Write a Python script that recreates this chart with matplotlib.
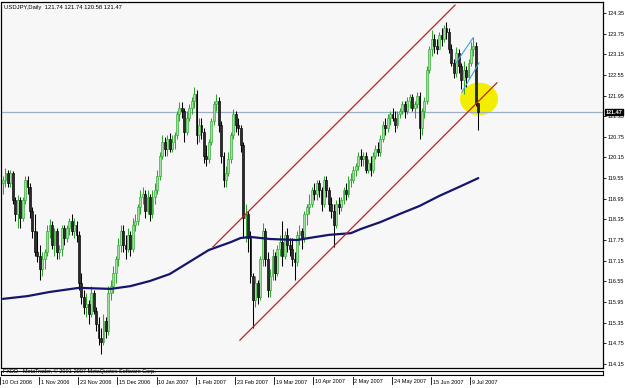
import matplotlib
matplotlib.use("Agg")
import matplotlib.pyplot as plt
from matplotlib.patches import Ellipse
from matplotlib.lines import Line2D
import numpy as np

# ---------------- data ----------------
chart_title = "USDJPY,Daily  121.74 121.74 120.58 121.47"
copyright_text = "FXDD - MetaTrader, \u00a9 2001-2007 MetaQuotes Software Corp."
date_labels = ["10 Oct 2006", "1 Nov 2006", "23 Nov 2006", "15 Dec 2006", "10 Jan 2007",
               "1 Feb 2007", "23 Feb 2007", "19 Mar 2007", "10 Apr 2007", "2 May 2007",
               "24 May 2007", "15 Jun 2007", "9 Jul 2007"]
date_label_bars = [0, 16, 32, 48, 64, 80, 96, 112, 128, 144, 160, 176, 192]
price_ticks = [124.35, 123.75, 123.15, 122.55, 121.95, 121.35, 120.75, 120.15, 119.55,
               118.95, 118.35, 117.75, 117.15, 116.55, 115.95, 115.35, 114.75, 114.15]
last_price = 121.47

opens = [
    119.4, 119.5, 119.7, 119.4, 119.7, 118.9, 118.5, 118.9, 118.4, 118.9, 119.5, 119.3, 118.6, 118.0, 117.4, 117.3,
    116.9, 117.2, 117.4, 118.0, 118.2, 117.6, 118.0, 117.4, 117.5, 118.1, 117.8, 118.1, 118.3, 118.0, 118.2, 117.9,
    116.5, 116.1, 115.8, 115.9, 115.6, 116.2, 115.7, 115.3, 114.9, 114.8, 115.4, 115.1, 116.2, 116.4, 116.8, 117.2,
    117.6, 118.0, 117.6, 117.5, 117.9, 117.5, 118.2, 118.3, 118.7, 119.0, 119.1, 118.6, 119.0, 118.5, 119.0, 119.2,
    119.6, 120.2, 120.6, 120.4, 120.7, 120.4, 120.6, 120.8, 121.4, 121.6, 121.5, 120.9, 121.3, 121.6, 121.8, 122.0,
    120.8, 121.1, 120.9, 120.2, 120.1, 120.6, 121.2, 121.7, 121.8, 121.1, 120.2, 119.5, 119.7, 120.1, 120.8, 121.4,
    121.1, 121.0, 120.5, 118.4, 118.5, 117.8, 116.7, 116.0, 116.5, 116.1, 117.2, 118.0, 117.2, 116.3, 116.7, 117.3,
    116.8, 117.5, 117.7, 117.3, 117.9, 117.6, 117.5, 117.2, 117.1, 117.9, 118.0, 117.8, 118.5, 118.7, 118.8, 119.2,
    119.1, 119.4, 119.2, 118.8, 119.5, 119.2, 118.8, 118.6, 118.2, 118.8, 118.7, 118.9, 119.2, 119.1, 119.5, 119.5,
    119.8, 119.9, 120.2, 120.1, 120.2, 119.8, 120.0, 119.8, 120.2, 120.4, 120.3, 120.7, 121.1, 121.0, 121.3, 121.4,
    121.3, 121.1, 121.4, 121.5, 121.7, 121.5, 121.8, 121.9, 121.6, 121.7, 121.95, 121.0, 121.5, 121.8, 122.7, 123.3,
    123.6, 123.4, 123.3, 123.7, 123.6, 123.9, 123.8, 123.3, 122.9, 122.6, 123.2, 122.8, 122.4, 122.7, 122.5, 122.9,
    123.3, 123.4, 121.74,
]
highs = [
    119.6, 119.85, 119.8, 119.8, 119.75, 119.0, 119.05, 119.0, 119.0, 119.6, 119.6, 119.4, 118.7, 118.5, 118.0, 117.6,
    117.4, 117.5, 118.2, 118.35, 118.3, 118.1, 118.1, 117.6, 118.2, 118.2, 118.2, 118.4, 118.5, 118.4, 118.3, 118.0,
    116.8, 116.3, 116.2, 116.0, 116.4, 116.3, 115.8, 115.5, 115.2, 115.6, 115.5, 116.4, 116.6, 117.0, 117.3, 117.8,
    118.2, 118.2, 117.9, 118.1, 118.0, 118.4, 118.5, 118.8, 119.2, 119.3, 119.2, 119.2, 119.1, 119.2, 119.4, 119.8,
    120.3, 120.8, 120.75, 120.8, 120.85, 120.8, 120.9, 121.5, 121.75, 121.75, 121.6, 121.5, 121.7, 121.9, 122.2, 122.1,
    121.3, 121.3, 121.0, 120.5, 120.7, 121.3, 121.8, 122.0, 121.9, 121.2, 120.3, 119.9, 120.3, 120.9, 121.55, 121.5,
    121.3, 121.1, 120.6, 118.8, 118.6, 118.0, 116.8, 116.7, 116.6, 117.3, 118.25, 118.1, 117.4, 116.9, 117.5, 117.4,
    117.6, 117.9, 118.3, 118.0, 118.1, 117.8, 117.8, 117.4, 118.0, 118.2, 118.1, 118.6, 118.8, 119.1, 119.3, 119.4,
    119.5, 119.5, 119.3, 119.6, 119.6, 119.3, 119.0, 118.8, 118.9, 119.0, 119.0, 119.3, 119.4, 119.6, 119.7, 119.9,
    120.0, 120.3, 120.4, 120.3, 120.3, 120.1, 120.2, 120.3, 120.5, 120.6, 120.8, 121.2, 121.3, 121.4, 121.5, 121.6,
    121.5, 121.5, 121.6, 121.8, 121.8, 121.9, 122.0, 122.0, 121.8, 122.05, 122.05, 121.6, 121.9, 122.8, 123.4, 123.85,
    123.75, 123.6, 123.8, 123.9, 124.0, 124.1, 123.9, 123.45, 123.0, 123.35, 123.3, 122.9, 122.95, 122.8, 123.0, 123.5,
    123.65, 123.5, 121.74,
]
lows = [
    119.1, 119.3, 119.3, 119.3, 118.8, 118.3, 118.1, 118.1, 118.3, 118.8, 119.1, 118.4, 117.8, 117.3, 117.1, 116.6,
    116.7, 116.9, 117.3, 117.8, 117.5, 117.3, 117.2, 117.2, 117.3, 117.6, 117.7, 117.9, 117.9, 117.8, 117.7, 116.3,
    115.9, 115.6, 115.5, 115.3, 115.5, 115.6, 115.1, 114.7, 114.45, 114.7, 114.9, 115.0, 116.0, 116.2, 116.5, 117.0,
    117.4, 117.4, 117.2, 117.4, 117.3, 117.4, 118.0, 118.2, 118.5, 118.8, 118.4, 118.5, 118.3, 118.4, 118.8, 119.1,
    119.5, 120.1, 120.2, 120.2, 120.3, 120.3, 120.4, 120.7, 121.2, 121.3, 120.6, 120.8, 121.2, 121.4, 121.6, 120.55,
    120.6, 120.7, 120.0, 119.9, 120.0, 120.5, 121.1, 121.5, 120.9, 120.0, 119.3, 119.3, 119.6, 120.0, 120.7, 120.9,
    120.8, 120.3, 117.8, 117.7, 117.4, 116.5, 115.2, 115.8, 115.9, 116.0, 117.0, 117.0, 116.1, 116.1, 116.6, 116.6,
    116.7, 117.3, 117.0, 117.2, 117.4, 117.3, 117.0, 116.6, 117.0, 117.6, 117.5, 117.7, 118.2, 118.5, 118.7, 118.9,
    118.9, 119.0, 118.6, 118.7, 119.0, 118.6, 118.4, 117.55, 118.1, 118.5, 118.6, 118.8, 118.9, 119.0, 119.3, 119.4,
    119.6, 119.8, 119.9, 119.9, 119.7, 119.7, 119.6, 119.7, 120.1, 120.2, 120.2, 120.6, 120.8, 120.9, 121.1, 121.2,
    120.9, 121.0, 121.3, 121.4, 121.3, 121.4, 121.6, 121.5, 121.3, 121.6, 120.7, 120.8, 121.3, 121.7, 122.6, 123.1,
    123.2, 123.15, 123.3, 123.4, 123.5, 123.6, 123.2, 122.8, 122.45, 122.5, 122.6, 122.15, 122.0, 122.2, 122.45, 122.8,
    123.1, 121.65, 120.95,
]
closes = [
    119.5, 119.7, 119.4, 119.7, 118.9, 118.5, 118.9, 118.4, 118.9, 119.5, 119.3, 118.6, 118.0, 117.4, 117.3, 116.9,
    117.2, 117.4, 118.0, 118.2, 117.6, 118.0, 117.4, 117.5, 118.1, 117.8, 118.1, 118.3, 118.0, 118.2, 117.9, 116.5,
    116.1, 115.8, 115.9, 115.6, 116.2, 115.7, 115.3, 114.9, 114.8, 115.4, 115.1, 116.2, 116.4, 116.8, 117.2, 117.6,
    118.0, 117.6, 117.5, 117.9, 117.5, 118.2, 118.3, 118.7, 119.0, 119.1, 118.6, 119.0, 118.5, 119.0, 119.2, 119.6,
    120.2, 120.6, 120.4, 120.7, 120.4, 120.6, 120.8, 121.4, 121.6, 121.5, 120.9, 121.3, 121.6, 121.8, 122.0, 120.8,
    121.1, 120.9, 120.2, 120.1, 120.6, 121.2, 121.7, 121.8, 121.1, 120.2, 119.5, 119.7, 120.1, 120.8, 121.4, 121.1,
    121.0, 120.5, 118.4, 118.5, 117.8, 116.7, 116.0, 116.5, 116.1, 117.2, 118.0, 117.2, 116.3, 116.7, 117.3, 116.8,
    117.5, 117.7, 117.3, 117.9, 117.6, 117.5, 117.2, 117.1, 117.9, 118.0, 117.8, 118.5, 118.7, 118.8, 119.2, 119.1,
    119.4, 119.2, 118.8, 119.5, 119.2, 118.8, 118.6, 118.2, 118.8, 118.7, 118.9, 119.2, 119.1, 119.5, 119.5, 119.8,
    119.9, 120.2, 120.1, 120.2, 119.8, 120.0, 119.8, 120.2, 120.4, 120.3, 120.7, 121.1, 121.0, 121.3, 121.4, 121.3,
    121.1, 121.4, 121.5, 121.7, 121.5, 121.8, 121.9, 121.6, 121.7, 121.95, 121.0, 121.5, 121.8, 122.7, 123.3, 123.6,
    123.4, 123.3, 123.7, 123.6, 123.9, 123.8, 123.3, 122.9, 122.6, 123.2, 122.8, 122.4, 122.7, 122.5, 122.9, 123.3,
    123.4, 121.74, 121.47,
]

# 200-day moving average (bar index, value)
ma_bars = [0, 10, 19, 31, 44, 52, 60, 68, 76, 84, 93, 97, 101, 109, 120, 125, 133, 142, 146,
           154, 162, 170, 178, 187, 194]
ma_values = [116.04, 116.12, 116.24, 116.36, 116.33, 116.41, 116.56, 116.76, 117.11, 117.46,
             117.69, 117.81, 117.84, 117.78, 117.75, 117.81, 117.90, 117.95, 118.07,
             118.27, 118.51, 118.74, 119.03, 119.32, 119.55]

# trend channel (red) and flag (blue) lines
upper_channel_bars = [85.7, 184.5]
upper_channel_prices = [117.55, 124.58]
lower_channel_bars = [96.7, 201.6]
lower_channel_prices = [114.84, 122.32]
flag_upper_bars = [184.9, 191.8]
flag_upper_prices = [122.90, 123.62]
flag_lower_bars = [187.3, 194.3]
flag_lower_prices = [122.05, 122.90]

# highlight circle
highlight_bar = 194.3
highlight_price = 121.85
highlight_w_bars = 15.5
highlight_h_price = 0.95

# ---------------- layout ----------------
W, H = 625, 388
fig = plt.figure(figsize=(W / 100, H / 100), dpi=100)
fig.patch.set_facecolor("white")

FONT = ["Liberation Sans", "DejaVu Sans"]
FS = 4.0

px_per_bar = 2.45
bar0_px = 3.0
ax_left_px, ax_right_px = 1.5, 603.0
ax_top_px, ax_bot_px = 1.5, 367.5
px_per_unit = 34.4
ref_price, ref_px = 124.35, 13.0

ax = fig.add_axes([ax_left_px / W, 1 - ax_bot_px / H,
                   (ax_right_px - ax_left_px) / W, (ax_bot_px - ax_top_px) / H])
ax.set_facecolor("#f7f7f7")
ax.set_xlim((ax_left_px - bar0_px) / px_per_bar, (ax_right_px - bar0_px) / px_per_bar)
ax.set_ylim(ref_price - (ax_bot_px - ref_px) / px_per_unit,
            ref_price + (ref_px - ax_top_px) / px_per_unit)
for s in ax.spines.values():
    s.set_color("black")
    s.set_linewidth(0.9)

# highlight ellipse (beneath everything)
ax.add_patch(Ellipse((highlight_bar, highlight_price), highlight_w_bars, highlight_h_price,
                     facecolor="#f3ee00", edgecolor="none", zorder=1))

# last price line
ax.axhline(last_price, color="#9cb0c4", lw=0.9, zorder=1.5)

# candles
o = np.array(opens); h = np.array(highs); l = np.array(lows); c = np.array(closes)
idx = np.arange(len(c))
up = c >= o
bull_edge, bull_face = "#2ea62e", "#9ee09e"
ax.vlines(idx[up], l[up], h[up], color=bull_edge, lw=0.75, zorder=3)
ax.vlines(idx[~up], l[~up], h[~up], color="black", lw=0.75, zorder=3)
ax.bar(idx[up], np.maximum((c - o)[up], 0.02), bottom=o[up], width=0.75,
       facecolor=bull_face, edgecolor=bull_edge, lw=0.45, zorder=4)
ax.bar(idx[~up], (o - c)[~up], bottom=c[~up], width=0.75,
       facecolor="#2a2a2a", edgecolor="black", lw=0.45, zorder=4)

# moving average
ax.plot(ma_bars, ma_values, color="#15156e", lw=1.6, zorder=5, solid_capstyle="round",
        solid_joinstyle="round")

# channel lines
ax.plot(upper_channel_bars, upper_channel_prices, color="#c0201c", lw=0.9, zorder=6)
ax.plot(lower_channel_bars, lower_channel_prices, color="#c0201c", lw=0.9, zorder=6)
ax.plot(flag_upper_bars, flag_upper_prices, color="#3aa2dc", lw=0.8, zorder=6)
ax.plot(flag_lower_bars, flag_lower_prices, color="#3aa2dc", lw=0.8, zorder=6)

# right price axis
ax.set_xticks([])
ax.yaxis.tick_right()
ax.set_yticks(price_ticks)
ax.set_yticklabels([f"{p:.2f}" for p in price_ticks], fontsize=FS, family=FONT)
ax.tick_params(axis="y", length=2.2, width=0.6, pad=0.8, colors="black")

# highlighted current price label
ax.annotate(f"{last_price:.2f}", xy=(1, last_price), xycoords=("axes fraction", "data"),
            xytext=(2.2, 0), textcoords="offset points", va="center", ha="left",
            fontsize=FS, family=FONT, color="white", fontweight="bold",
            bbox=dict(boxstyle="square,pad=0.12", fc="black", ec="black"), zorder=10,
            annotation_clip=False)

# title
fig.text(4 / W, 1 - 7 / H, chart_title, fontsize=4.2, family=FONT, color="black",
         va="center", ha="left")

# bottom strip
sub = fig.add_axes([ax_left_px / W, 1 - 375.2 / H, (ax_right_px - ax_left_px) / W, 4.5 / H])
sub.set_facecolor("#f7f7f7")
sub.set_xticks([]); sub.set_yticks([])
for s in sub.spines.values():
    s.set_color("black"); s.set_linewidth(0.8)
fig.text(3 / W, 1 - 371.3 / H, copyright_text, fontsize=4.0, family=FONT, color="black",
         va="center", ha="left")

# date labels with tick marks
for b, lab in zip(date_label_bars, date_labels):
    xp = bar0_px + b * px_per_bar
    tx = xp - 3.2
    fig.add_artist(Line2D([tx / W, tx / W], [1 - 377.0 / H, 1 - 383.5 / H],
                          color="black", lw=0.6))
    fig.text((xp - 1.3) / W, 1 - 382 / H, lab, fontsize=FS, family=FONT,
             color="black", va="center", ha="left")

fig.savefig("out.png", dpi=100, facecolor=fig.get_facecolor())
